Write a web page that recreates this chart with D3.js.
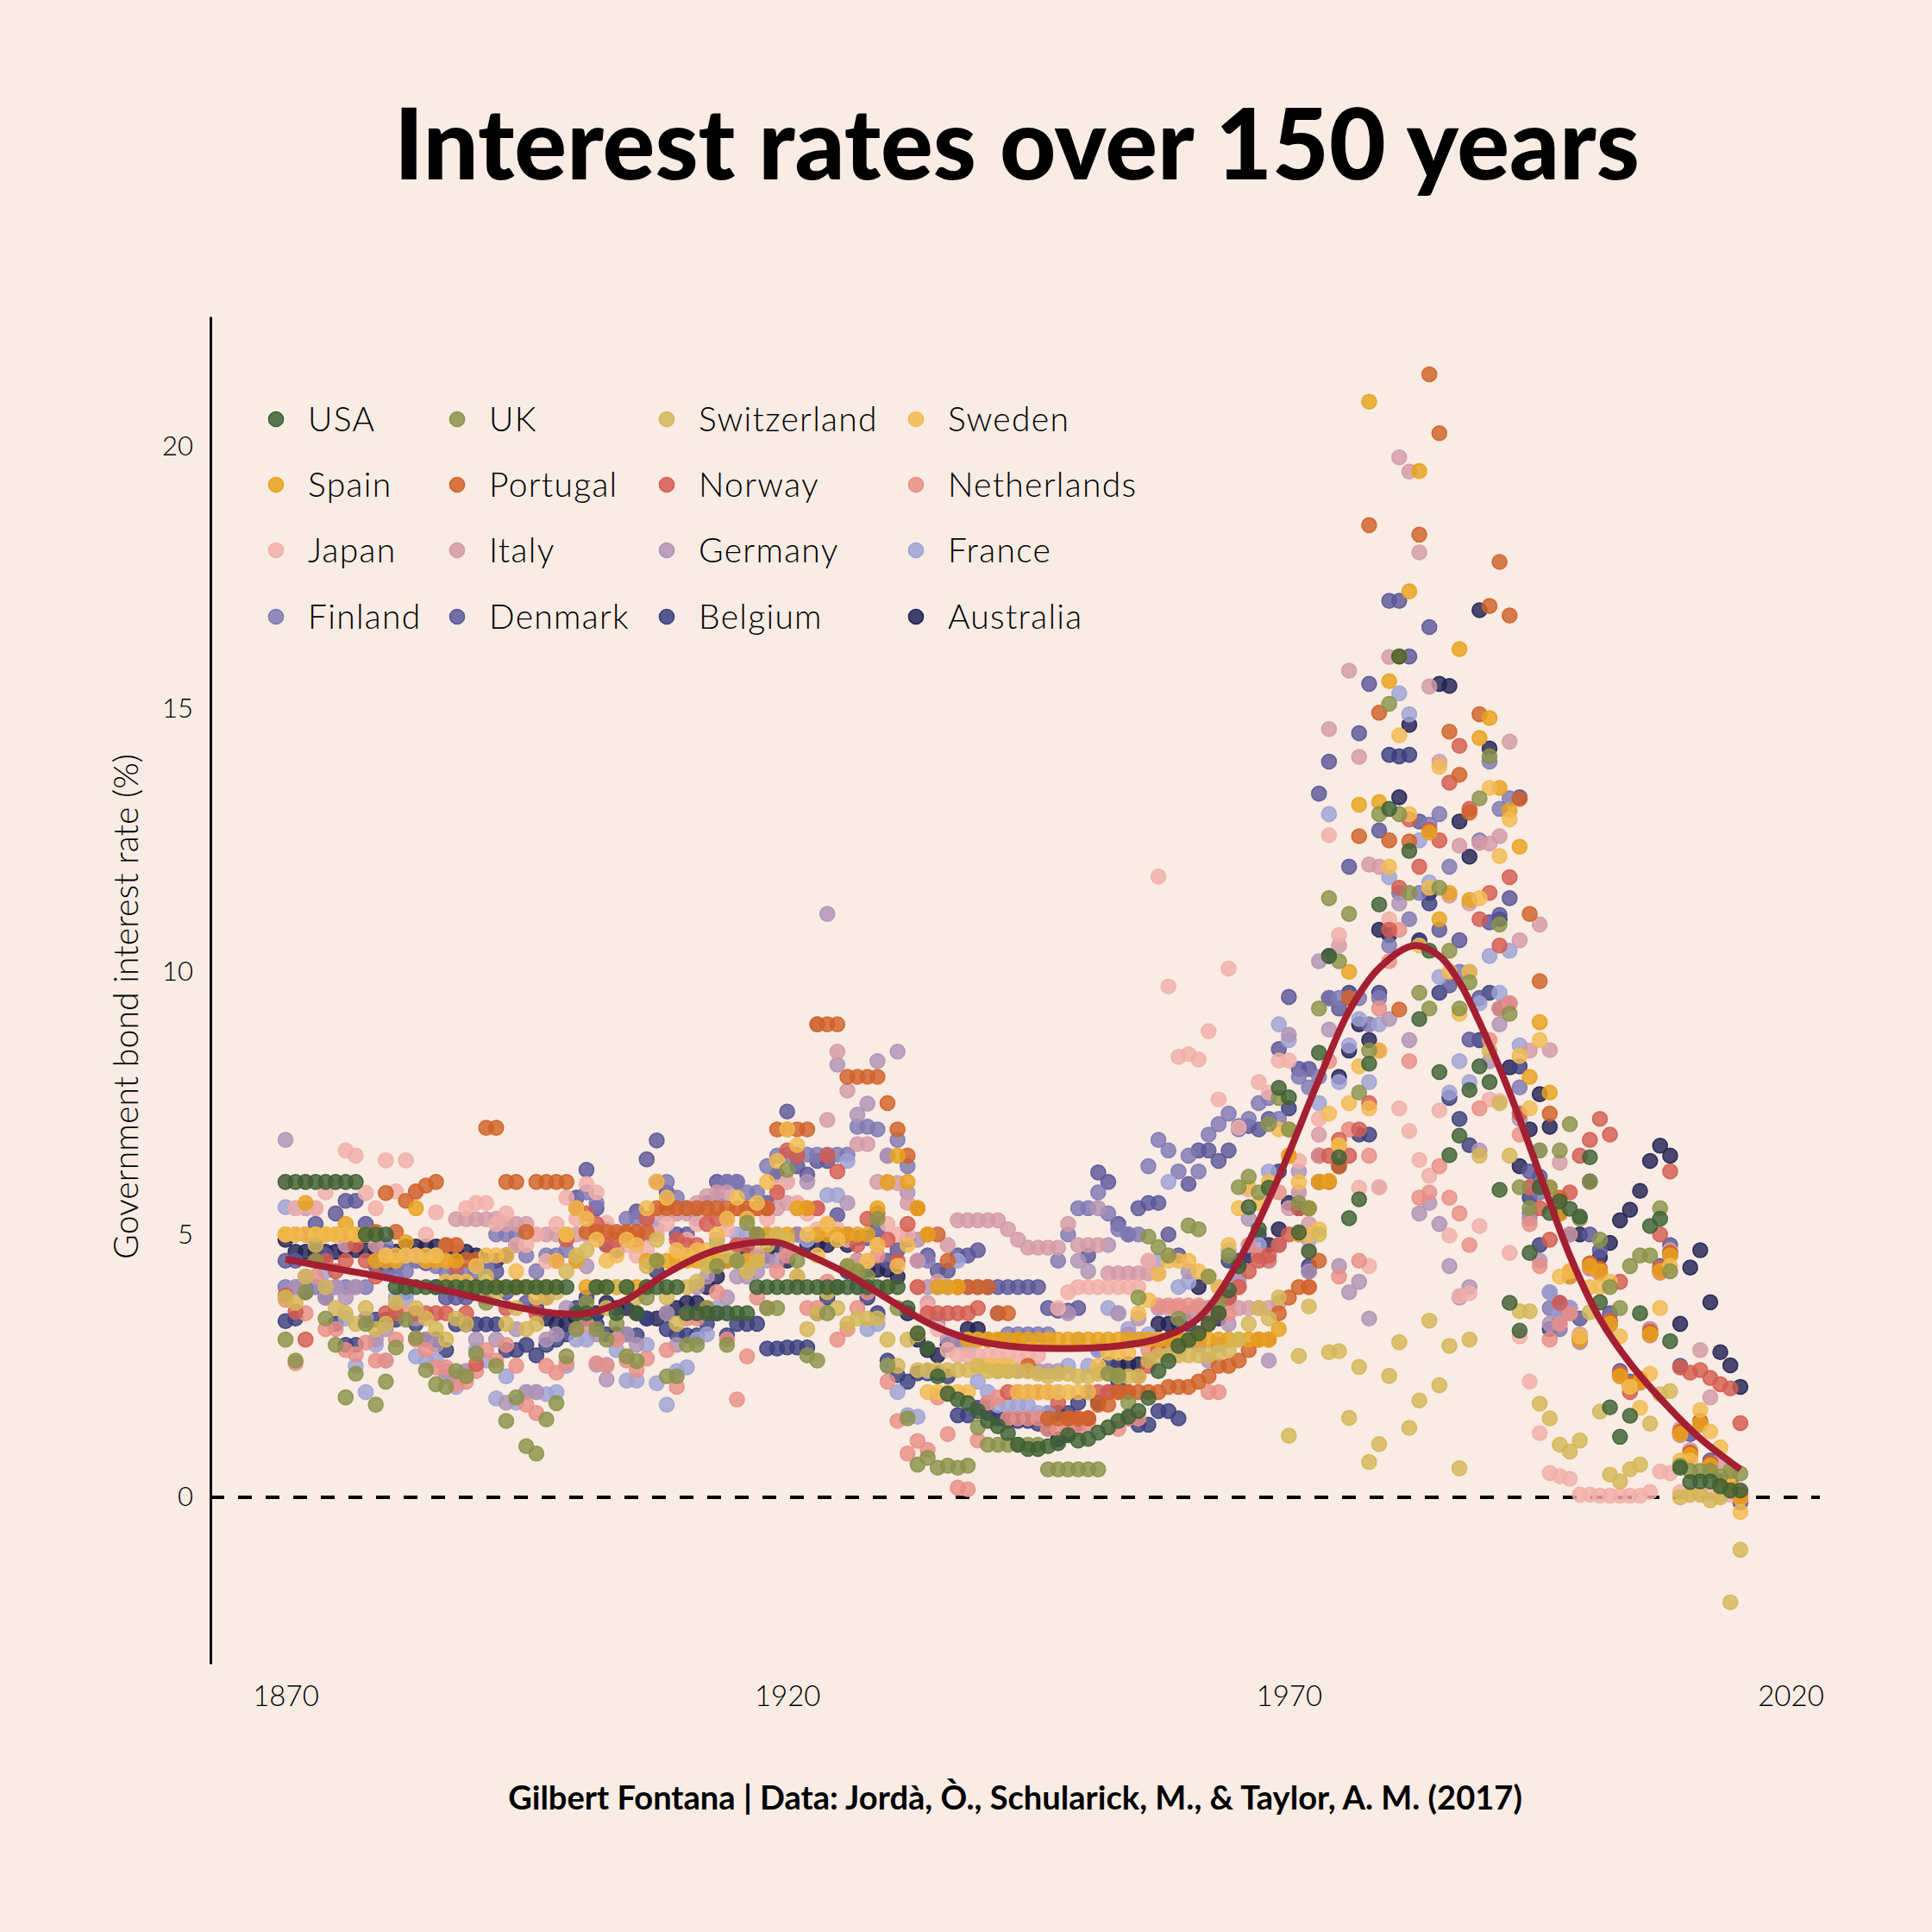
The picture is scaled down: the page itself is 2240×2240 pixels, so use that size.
<!DOCTYPE html>
<html>
<head>
<meta charset="utf-8">
<script src="https://cdn.jsdelivr.net/npm/d3@7"></script>
<style>
html, body { margin: 0; padding: 0; background: #f8ece4; }
svg { display: block; font-family: Lato, "Open Sans", sans-serif; }
</style>
</head>
<body>
<svg id="chart" width="2240" height="2240"></svg>
<script>
// short-term interest rates, one value per year from 1870 to 2015
var firstYear = 1870;

var usa = [
  6,6,6,6,6,6,6,6,5,5,
  5,4,4,4,4,4,4,4,4,4,
  4,4,4,4,4,4,4,4,4,3.5,
  3.5,4,4,3.5,4,3.5,4,4,4,4,
  3.5,3.5,3.5,3.5,3.5,3.5,3.5,4,4,4,
  4,4,4,4,4,4,4,4,4,4,
  4,4,3.6,3.12,2.83,2.3,1.97,1.86,1.79,1.64,
  1.45,1.35,1.22,1.0,0.92,0.92,0.97,1.03,1.18,1.08,
  1.11,1.23,1.33,1.45,1.53,1.64,1.89,2.4,2.59,2.88,
  2.99,3.12,3.3,3.5,3.94,4.4,5.52,5.1,5.89,7.79,
  7.61,5.04,4.68,8.46,10.3,6.47,5.31,5.67,8.25,11.28,
  13.1,16.0,12.3,9.1,10.4,8.09,6.51,6.88,7.75,8.2,
  7.9,5.85,3.7,3.17,4.65,5.9,5.41,5.63,5.49,5.34,
  6.47,3.71,1.71,1.15,1.55,3.5,5.16,5.3,2.97,0.56,
  0.29,0.3,0.3,0.21,0.13,0.13
];
var uk = [
  3.0,2.6,3.9,4.5,3.4,2.9,1.9,2.35,3.3,1.76,
  2.2,2.85,3.38,3.03,2.42,2.15,2.1,2.4,2.3,2.73,
  3.7,2.5,1.45,1.9,0.97,0.83,1.48,1.79,2.68,3.2,
  3.7,3.2,3.0,3.3,2.68,2.59,3.8,4.5,2.3,2.3,
  2.9,2.9,3.6,4.4,2.9,4.5,5.22,5.0,3.6,3.6,
  6.23,4.5,2.7,2.6,3.5,4.0,4.4,4.3,4.2,5.3,
  2.5,3.6,1.5,0.62,0.75,0.56,0.6,0.56,0.6,1.33,
  1.0,1.0,1.0,1.0,1.0,1.0,0.53,0.53,0.53,0.53,
  0.53,0.53,2.35,2.32,1.8,3.8,4.96,4.76,4.6,3.4,
  5.17,5.1,4.2,3.7,4.6,5.9,6.1,5.8,7.1,7.6,
  7.0,5.6,5.5,9.3,11.4,10.2,11.1,7.7,8.5,13.0,
  15.1,13.0,11.5,9.6,9.3,11.6,10.4,9.3,9.8,13.3,
  14.1,10.9,9.2,5.9,5.5,6.6,5.9,6.6,7.1,5.3,
  6.0,4.9,4.0,3.6,4.4,4.6,4.6,5.5,4.3,0.6,
  0.5,0.5,0.5,0.4,0.5,0.45
];
var switzerland = [
  3.8,3.7,4.2,4.8,4.0,3.6,3.5,3.3,3.6,3.2,
  3.3,3.7,4.0,3.6,3.4,3.2,3.0,3.4,3.3,3.9,
  4.2,3.9,3.3,3.6,3.2,3.3,3.8,3.9,4.3,4.6,
  4.7,4.0,3.6,4.0,4.0,3.8,4.4,4.9,3.8,3.3,
  4.0,4.1,4.4,4.8,4.6,4.5,4.3,4.5,4.8,5.0,
  4.9,4.2,3.2,3.5,3.9,3.6,3.3,3.4,3.4,3.4,
  3.0,2.5,3.0,2.42,2.42,2.42,2.42,2.42,2.42,2.5,
  2.4,2.4,2.4,2.4,2.4,2.35,2.3,2.35,2.35,2.3,
  2.3,2.35,2.35,2.3,2.3,2.3,2.6,2.7,2.7,2.7,
  2.7,2.7,2.7,2.75,2.8,3.0,3.3,3.6,3.4,3.8,
  1.17,2.69,3.63,5.0,2.76,2.78,1.51,2.48,0.67,1.01,
  2.31,2.95,1.32,1.84,3.36,2.13,2.88,0.55,3.0,6.5,
  8.5,7.5,6.5,3.54,3.54,1.78,1.5,1.0,0.87,1.08,
  3.52,1.63,0.43,0.3,0.53,0.62,1.4,1.96,2.02,0.0,
  0.05,0.05,-0.06,0.0,-2.0,-1.0
];
var sweden = [
  5,5,5,5,5,5,5,5,5,5,
  4.6,4.6,4.6,4.6,4.6,4.6,4.1,4.1,4.1,4.4,
  4.6,4.6,4.6,4.3,4.0,3.8,4.0,4.5,5.0,5.5,
  5.3,4.9,4.5,4.6,4.9,4.8,5.5,6.0,5.7,4.7,
  4.6,4.7,4.7,5.0,5.3,5.7,5.3,5.6,6.0,6.4,
  7.0,6.7,5.0,4.6,5.2,4.9,4.4,4.3,4.5,4.8,
  4.0,4.4,4.8,3.1,2.0,2.0,2.0,2.0,2.0,2.5,
  2.5,2.5,2.5,2.0,2.0,2.0,2.0,2.0,2.0,2.0,
  2.0,2.5,2.75,2.75,2.75,3.5,3.75,4.25,4.5,4.5,
  4.5,4.3,4.2,4.0,4.8,5.5,5.9,5.6,6.0,7.0,
  7.0,6.0,5.0,5.1,7.3,6.7,7.5,8.2,7.4,8.5,
  12.0,14.5,13.0,10.5,11.6,13.9,10.0,9.2,10.0,11.4,
  13.5,12.2,12.9,8.4,7.4,8.7,5.9,4.2,4.3,3.06,
  4.0,4.0,4.1,3.06,2.1,1.7,2.35,3.6,4.4,0.7,
  0.7,1.66,1.25,0.95,0.43,-0.28
];
var spain = [
  5.0,5.0,5.6,5.0,5.0,5.0,5.2,5.0,5.0,4.5,
  4.5,4.5,4.85,5.5,4.5,4.5,4.5,4.5,4.0,4.0,
  4.0,4.0,4.0,4.0,4.0,4.0,4.0,4.0,5.0,4.5,
  4.0,4.0,4.0,4.0,4.0,4.0,4.5,4.5,4.5,4.5,
  4.5,4.5,4.5,4.5,4.5,4.5,4.5,4.5,5.0,5.0,
  5.0,5.5,5.5,5.0,5.0,5.0,5.0,5.0,5.0,5.5,
  6.0,6.5,6.0,5.5,5.0,4.0,4.0,4.0,3.0,3.0,
  3,3,3,3,3,3,3,3,3,3,
  3,3,3,3,3,3,3,3,3,3,
  3,3,3,3,3,3,3,3,3,3.2,
  6.5,5.0,5.5,6.0,6.02,6.69,10.0,13.18,20.85,13.23,
  15.53,16.0,17.24,19.53,12.65,11.0,11.5,16.14,11.37,14.45,
  14.83,13.5,13.07,12.38,8.0,9.04,7.7,5.4,4.2,3.0,
  4.4,4.3,3.3,2.3,2.1,2.2,3.1,4.3,4.6,1.2,
  0.8,1.4,0.6,0.2,0.2,0.0
];
var portugal = [
  5.0,5.0,5.0,5.0,5.0,5.0,5.0,5.0,5.0,5.05,
  5.79,5.05,5.64,5.82,5.93,6.0,4.8,4.8,4.52,4.52,
  7.03,7.03,6.0,6.0,5.05,6.0,6.0,6.0,6.0,5.5,
  5.05,5.05,5.05,5.05,5.05,5.05,5.05,5.5,5.5,5.5,
  5.5,5.5,5.5,5.5,5.5,5.5,5.5,5.5,5.5,7.0,
  7.0,7.0,7.0,9.0,9.0,9.0,8.0,8.0,8.0,8.0,
  7.5,7.0,6.5,5.5,5.0,5.0,4.5,4.0,4.0,4.0,
  4.0,3.5,3.5,3.0,2.5,2.0,1.5,1.5,1.5,1.5,
  1.5,1.76,1.76,2.0,2.0,2.0,2.0,2.0,2.1,2.1,
  2.1,2.2,2.3,2.5,2.5,2.6,2.8,3.0,3.0,3.5,
  3.8,4.0,4.0,4.5,6.0,6.3,9.5,12.58,18.5,14.93,
  12.5,9.28,12.48,18.32,21.37,20.25,14.57,13.75,13.03,14.9,
  16.96,17.8,16.78,13.29,11.1,9.82,7.3,5.7,4.3,3.0,
  4.45,4.35,3.35,2.35,2.15,2.25,3.15,4.35,4.65,1.25,
  0.85,1.45,0.65,0.25,0.25,0.05
];
var norway = [
  3.84,3.53,3.0,4.5,4.5,4.3,4.5,4.8,4.5,4.2,
  3.5,3.5,4.0,3.5,3.5,3.5,3.5,4.4,3.5,2.53,
  4.0,4.0,3.6,4.0,4.0,3.5,3.8,4.5,4.9,5.5,
  5.4,5.2,4.8,4.9,5.0,4.9,5.3,6.0,5.6,4.9,
  4.8,4.8,5.2,5.3,5.3,4.8,4.8,5.0,5.5,5.8,
  6.6,6.5,5.5,5.5,6.5,6.2,5.0,4.8,5.3,5.4,
  4.9,4.5,5.2,4.0,3.5,3.5,3.5,3.5,3.5,3.6,
  3.0,3.0,2.0,2.0,2.0,2.0,2.0,1.8,1.5,1.5,
  1.5,2.0,2.0,2.0,2.0,2.3,2.5,2.8,3.0,3.0,
  3.0,3.1,3.3,3.5,3.8,4.0,4.3,4.5,4.6,4.8,
  5.0,5.5,5.5,6.0,6.5,6.8,6.5,7.0,7.5,8.5,
  10.8,11.6,12.9,12.0,12.7,12.5,13.6,14.3,13.1,11.0,
  11.5,10.5,11.8,7.3,5.9,5.5,4.9,3.7,5.8,6.5,
  6.8,7.2,6.9,4.1,2.0,2.2,3.1,5.0,6.2,2.47,
  2.37,2.42,2.27,2.15,2.07,1.41
];
var netherlands = [
  3.76,2.55,3.5,4.2,3.2,3.2,2.8,2.72,2.94,2.6,
  2.6,3.0,3.5,3.0,2.8,2.47,2.47,2.15,2.2,2.4,
  2.8,2.6,2.9,2.5,1.76,1.6,2.5,2.37,2.55,3.2,
  3.3,2.55,2.5,3.0,2.6,2.42,2.64,4.5,2.8,2.1,
  3.4,3.4,3.6,3.9,3.0,1.86,2.68,3.8,3.6,4.3,
  4.6,4.2,3.6,3.6,4.1,3.0,3.2,3.6,3.9,4.6,
  2.2,1.45,0.83,1.07,0.9,1.9,1.2,0.18,0.15,1.08,
  1.8,1.9,1.5,1.5,1.5,1.5,1.3,1.3,1.3,1.3,
  1.4,2.4,2.0,1.3,1.5,1.5,2.8,3.65,3.65,3.65,
  3.65,3.65,2.0,2.0,3.5,4.0,4.8,4.6,4.5,5.8,
  6.5,5.0,4.0,6.5,8.3,4.2,7.0,4.5,6.5,9.3,
  10.2,10.8,8.3,5.7,5.8,6.3,5.7,5.4,4.8,7.4,
  8.7,9.3,9.4,6.9,5.2,4.4,3.0,3.3,3.5,3.05,
  4.38,4.26,3.32,2.33,2.11,2.19,3.08,4.28,4.63,1.23,
  0.78,1.39,0.57,0.22,0.21,-0.02
];
var japan = [
  6.0,5.5,6.0,5.5,5.8,6.0,6.6,6.5,5.79,5.5,
  6.41,5.82,6.41,5.8,5.0,5.42,4.5,4.8,5.5,5.6,
  5.6,5.2,5.4,4.8,4.8,5.0,4.49,5.2,5.7,5.3,
  5.96,5.8,5.22,4.9,4.8,4.6,4.7,5.0,5.2,4.6,
  4.9,5.2,5.4,5.5,5.1,4.8,4.5,4.6,5.3,5.9,
  6.0,5.6,5.4,5.1,5.2,5.1,4.9,4.49,4.49,4.8,
  5.2,5.0,5.0,4.0,3.6,3.2,2.8,2.7,2.7,2.7,
  2.7,2.7,2.7,2.7,2.7,2.7,3.0,3.6,3.9,4.0,
  4.0,4.0,4.0,4.0,4.0,4.0,4.5,11.81,9.72,8.38,
  8.43,8.33,8.87,7.57,10.06,7.04,5.85,7.9,7.7,8.31,
  8.31,6.4,4.7,7.2,12.6,10.7,7.0,5.89,4.4,5.9,
  11.0,7.4,6.97,6.42,6.12,7.36,4.98,3.83,3.88,5.16,
  7.57,7.54,4.65,3.06,2.2,1.22,0.46,0.4,0.35,0.05,
  0.05,0.03,0.03,0.03,0.03,0.03,0.1,0.49,0.46,0.1,
  0.05,0.05,0.05,0.05,0.05,0.05
];
var italy = [
  5.0,5.0,5.5,5.5,5.0,5.0,4.8,5.0,5.0,4.8,
  4.6,4.5,4.6,4.6,4.5,4.6,4.8,5.29,5.29,5.29,
  5.29,5.3,5.2,5.2,5.2,5.0,5.0,5.0,5.0,5.0,
  5.0,5.0,5.0,5.0,5.0,5.0,5.0,5.4,5.4,5.4,
  5.4,5.6,5.73,5.8,5.8,5.5,5.5,5.5,5.5,5.5,
  5.6,5.6,5.5,5.5,7.18,8.48,7.74,6.72,6.72,6.0,
  5.98,5.98,5.6,4.5,3.7,4.1,4.8,5.27,5.27,5.27,
  5.27,5.27,5.1,4.9,4.75,4.75,4.75,4.75,5.2,4.8,
  4.8,4.8,4.26,4.26,4.26,4.26,4.26,4.26,3.6,3.6,
  3.5,3.5,3.6,3.7,3.7,3.6,3.6,3.6,3.6,3.7,
  5.5,5.8,5.2,6.9,14.62,10.5,15.73,14.09,12.04,12.0,
  15.99,19.79,19.52,17.98,15.43,14.0,11.45,12.4,11.3,12.45,
  12.44,12.58,14.38,10.6,8.5,10.9,8.51,6.37,5.0,3.1,
  4.45,4.3,3.35,2.35,2.15,2.25,3.2,4.35,4.7,1.3,
  0.9,2.8,1.9,0.7,0.4,0.1
];
var germany = [
  6.8,4.0,4.2,5.0,3.8,4.0,3.8,4.0,3.4,3.0,
  3.2,3.6,4.0,3.4,3.0,2.9,2.3,2.3,2.4,3.0,
  3.8,3.0,1.8,3.2,2.0,2.0,3.0,3.1,3.6,4.5,
  4.4,3.1,2.24,3.0,3.1,2.9,4.0,5.1,3.5,2.9,
  3.5,4.0,4.2,4.9,3.8,4.2,4.2,4.3,4.5,4.5,
  4.7,5.0,6.0,9.0,11.1,8.23,5.6,7.28,7.49,8.3,
  6.5,8.48,5.8,4.9,4.0,3.3,3.0,3.0,3.0,3.0,
  2.5,2.4,2.4,2.4,2.4,2.4,2.4,2.4,3.5,4.5,
  4.3,5.5,4.8,3.5,3.1,3.4,4.5,3.6,2.9,2.8,
  4.3,2.9,2.6,2.9,3.3,4.1,5.3,3.0,2.6,4.8,
  8.8,6.2,4.3,10.2,8.9,4.4,3.9,4.1,3.4,5.9,
  9.1,11.3,8.7,5.4,5.6,5.2,4.4,3.8,4.0,6.6,
  8.3,9.0,9.4,7.2,5.3,4.5,3.3,3.3,3.5,2.95,
  4.35,4.25,3.28,2.3,2.08,2.18,3.08,4.27,4.6,1.18,
  0.78,1.38,0.58,0.19,0.19,-0.03
];
var france = [
  5.52,5.5,5.0,5.0,4.3,4.0,3.4,2.5,2.0,2.9,
  2.6,3.8,3.8,2.68,2.6,2.6,2.4,2.1,2.4,2.8,
  2.6,1.88,2.3,1.8,2.0,2.0,1.96,2.0,2.5,3.0,
  3.0,2.52,2.52,2.8,2.22,2.22,2.9,2.17,1.76,2.4,
  2.47,3.0,3.1,3.6,3.5,5.0,5.0,5.0,5.0,5.0,
  6.0,5.5,4.9,5.0,5.75,5.75,6.4,4.0,3.2,3.3,
  2.5,2.0,1.56,1.53,2.4,3.4,4.0,4.5,2.8,2.2,
  2.0,1.75,1.75,1.75,1.75,1.6,1.6,2.0,2.5,3.0,
  2.5,2.8,3.6,3.5,3.2,3.0,3.1,4.5,6.0,4.0,
  4.1,3.6,3.6,4.0,4.7,4.2,4.8,4.8,6.2,9.0,
  8.7,5.8,4.9,7.5,13.0,7.9,8.6,9.1,7.9,9.0,
  11.8,15.3,14.9,12.5,11.7,9.9,7.7,8.3,7.9,9.4,
  10.3,9.6,10.4,8.6,5.9,6.6,3.9,3.5,3.6,2.98,
  4.42,4.28,3.31,2.32,2.12,2.21,3.12,4.31,4.62,1.22,
  0.82,1.42,0.62,0.21,0.22,0.01
];
var finland = [
  4,4,4,4,4,4,4,4,4,4.5,
  4.8,4.2,4.3,4.5,4.5,4.4,4.3,4.3,4.3,4.3,
  4.4,5.0,5.0,5.0,4.6,4.3,4.6,4.6,4.7,5.5,
  5.8,5.6,5.1,4.9,5.3,5.3,5.3,6.0,6.0,5.7,
  5.5,5.3,5.5,5.7,6.0,6.0,5.8,5.8,6.3,6.5,
  6.52,6.52,6.52,6.52,6.52,6.52,6.52,7.05,7.05,7.0,
  6.5,6.8,6.3,5.5,4.5,4.0,4.0,4.0,4.0,4.0,
  4.0,3.5,3.1,3.1,3.1,3.1,3.1,4.5,5.0,5.5,
  5.5,5.8,5.4,5.1,5.0,5.0,6.3,6.8,6.6,6.2,
  6.5,6.2,6.9,7.1,7.3,7.0,7.2,7.5,7.6,7.2,
  7.0,8.0,7.8,8.0,9.5,9.5,9.5,9.5,9.0,9.5,
  10.5,11.5,11.0,11.5,12.8,13.0,12.0,10.0,10.0,12.5,
  14.0,13.1,13.3,7.8,5.4,5.8,3.6,3.2,3.6,3.02,
  4.39,4.27,3.3,2.31,2.1,2.2,3.11,4.3,4.64,1.21,
  0.81,1.41,0.59,0.2,0.2,-0.01
];
var denmark = [
  4.5,4.5,5.0,5.2,4.6,5.4,5.64,5.64,5.2,4.4,
  4.3,4.4,4.6,4.5,4.45,4.0,3.8,3.8,3.8,4.0,
  4.4,4.3,3.9,4.0,3.7,3.6,4.0,4.5,5.0,5.7,
  6.23,5.5,4.8,4.7,4.9,5.44,6.43,6.79,5.8,5.0,
  5.0,5.4,5.6,6.0,6.0,6.0,5.4,5.0,5.6,6.13,
  7.34,6.3,6.14,6.4,6.4,5.37,5.0,4.93,4.93,5.1,
  4.5,4.7,4.9,4.5,4.6,4.31,4.31,4.6,4.6,4.7,
  4.0,4.0,4.0,4.0,4.0,4.0,3.6,3.55,3.55,3.6,
  4.6,6.18,6.0,5.2,5.0,5.5,5.6,5.6,5.0,4.6,
  5.96,6.6,6.6,6.4,6.6,7.06,7.06,7.0,7.2,8.53,
  9.52,8.15,8.15,13.39,14.0,9.3,12.0,14.54,15.48,12.69,
  17.06,17.06,16.0,12.86,16.56,10.8,9.74,10.6,8.71,9.5,
  10.94,11.08,11.4,13.32,6.2,6.1,3.9,3.7,4.2,3.4,
  5.0,4.7,3.5,2.4,2.2,2.2,3.2,4.4,4.8,2.5,
  1.2,1.4,0.7,0.3,0.3,-0.1
];
var belgium = [
  3.35,3.4,3.9,4.8,3.8,3.3,2.9,2.9,3.38,3.38,
  3.38,3.38,3.9,3.3,3.0,3.0,2.8,3.29,3.29,3.29,
  3.29,3.29,2.8,2.8,2.9,2.7,2.9,3.0,3.1,3.6,
  3.8,3.29,3.1,3.1,3.1,3.08,3.4,4.3,3.2,3.1,
  3.08,3.08,3.3,3.5,3.08,3.3,3.3,3.3,2.83,2.83,
  2.85,2.85,2.85,3.5,3.8,4.0,4.3,4.2,3.8,3.5,
  2.6,2.32,2.2,2.36,2.36,2.36,2.3,1.56,1.56,1.7,
  1.8,1.5,1.45,1.45,1.45,1.4,1.6,1.6,1.6,1.8,
  2.0,2.8,2.53,2.2,1.5,1.38,1.38,1.64,1.64,1.5,
  3.3,3.5,3.6,3.5,4.5,4.5,4.7,5.0,4.5,6.2,
  7.4,5.5,4.4,6.5,10.3,6.3,9.6,6.9,6.9,9.6,
  14.13,14.1,14.13,10.6,11.3,9.6,7.6,7.2,6.7,8.7,
  9.6,9.3,9.4,8.2,5.7,4.8,3.2,3.4,3.6,3.03,
  4.41,4.29,3.31,2.32,2.1,2.21,3.1,4.3,4.63,1.22,
  0.81,1.41,0.6,0.21,0.2,0.0
];
var australia = [
  4.9,4.67,4.67,4.67,4.67,4.67,4.7,4.7,4.7,4.7,
  4.67,4.67,4.77,4.77,4.77,4.77,4.77,4.67,4.67,4.6,
  4.5,4.5,4.6,4.8,4.0,3.6,3.4,3.3,3.3,3.4,
  3.4,3.5,3.7,3.6,3.6,3.5,3.4,3.4,3.5,3.6,
  3.7,3.7,4.0,4.2,4.5,4.5,4.6,4.6,4.6,4.8,
  4.5,5.0,4.8,4.8,4.8,4.9,4.8,4.5,4.33,4.33,
  4.33,4.2,3.5,3.0,2.8,2.7,2.9,3.0,3.2,3.2,
  1.6,1.5,1.5,1.5,1.5,1.5,1.3,1.1,1.2,1.4,
  1.5,1.8,2.0,2.5,2.53,2.53,2.6,3.3,3.3,3.3,
  3.5,4.0,3.5,3.4,3.8,4.4,4.6,4.6,4.8,5.1,
  5.6,5.5,4.3,6.0,9.5,8.0,8.5,9.0,8.7,10.8,
  10.7,13.32,14.7,10.58,11.5,15.48,15.44,12.86,12.19,16.88,
  14.25,11.0,8.18,6.3,7.0,7.67,7.05,5.4,5.0,5.0,
  6.01,4.57,4.84,5.27,5.47,5.83,6.4,6.69,6.5,3.3,
  4.37,4.7,3.71,2.76,2.51,2.1
];

// legend order (row by row) and colours
var countries = ["USA","UK","Switzerland","Sweden","Spain","Portugal","Norway","Netherlands",
                 "Japan","Italy","Germany","France","Finland","Denmark","Belgium","Australia"];
var seriesValues = [usa,uk,switzerland,sweden,spain,portugal,norway,netherlands,
                    japan,italy,germany,france,finland,denmark,belgium,australia];
var colors = ["#3e6134","#8b934a","#d4b757","#f2bb50","#e8a21c","#d16228","#d45c51","#e98f86",
              "#f2afa9","#d49aa7","#b092b6","#9fa2d6","#7f79b4","#5b579a","#3b3f80","#222255"];

// smoothed trend
var smoothYears = [1870,1875,1880,1885,1889,1893,1897,1900,1904,1908,1912,1916,1919,1922,1926,1930,
                   1934,1938,1942,1947,1953,1957,1961,1965,1969,1973,1976,1979,1982.5,1985,1987,1989,
                   1992,1995,1998,2001,2004,2008,2011,2015];
var smoothVals = [4.53,4.35,4.18,3.98,3.8,3.62,3.5,3.5,3.76,4.26,4.64,4.83,4.85,4.62,4.25,3.78,
                  3.32,3.02,2.88,2.83,2.88,3.02,3.41,4.5,6.1,7.95,9.25,10.07,10.5,10.3,9.8,9.04,
                  7.7,6.15,4.6,3.39,2.55,1.68,1.12,0.53];

var xTicks = [1870,1920,1970,2020];
var yTicks = [0,5,10,15,20];

var svg = d3.select("#chart");
svg.append("rect").attr("width",2240).attr("height",2240).attr("fill","#f8ece4");

var x = d3.scaleLinear().domain([1870,2020]).range([331,2076]);
var y = d3.scaleLinear().domain([-3.17,22.47]).range([1929,367]);
var color = d3.scaleOrdinal().domain(countries).range(colors);

function fitWidth(sel, w) {
  var len = sel.node().getComputedTextLength();
  var fs = parseFloat(sel.attr("font-size"));
  sel.attr("font-size", fs * w / len);
}

// title
var title = svg.append("text")
  .attr("x",1179).attr("y",208)
  .attr("text-anchor","middle")
  .attr("font-size",100).attr("font-weight",900)
  .attr("fill","#000")
  .text("Interest rates over 150 years");
fitWidth(title, 1444);

// zero line
svg.append("line")
  .attr("x1",244).attr("x2",2110)
  .attr("y1",y(0)).attr("y2",y(0))
  .attr("stroke","#000").attr("stroke-width",4)
  .attr("stroke-dasharray","16,16");

// points: drawn alphabetically, so USA ends on top
var pts = [];
for (var c = countries.length - 1; c >= 0; c--) {
  seriesValues[c].forEach(function(v, i) {
    pts.push({country: countries[c], year: firstYear + i, value: v});
  });
}
svg.append("g").selectAll("circle")
  .data(pts)
  .enter()
  .append("circle")
  .attr("cx", function(d) { return x(d.year); })
  .attr("cy", function(d) { return y(d.value); })
  .attr("r", 8.5)
  .attr("fill", function(d) { return color(d.country); })
  .attr("fill-opacity", 0.82)
  .attr("stroke", function(d) { return color(d.country); })
  .attr("stroke-opacity", 0.9)
  .attr("stroke-width", 1.6);

// smooth trend
var line = d3.line()
  .x(function(d, i) { return x(smoothYears[i]); })
  .y(function(d) { return y(d); })
  .curve(d3.curveCatmullRom.alpha(0.5));
svg.append("path")
  .attr("d", line(smoothVals))
  .attr("fill","none")
  .attr("stroke","#a31f31")
  .attr("stroke-width",8)
  .attr("stroke-linecap","butt");

// y axis
var yAxis = svg.append("g")
  .attr("transform","translate(244,0)")
  .call(d3.axisLeft(y).tickValues(yTicks).tickSize(0).tickSizeOuter(0).tickPadding(20));
yAxis.select(".domain").attr("stroke","#000").attr("stroke-width",3);
yAxis.selectAll("text")
  .attr("font-family","Lato, sans-serif")
  .attr("font-size",31).attr("font-weight",300).attr("fill","#000");

// x axis (labels only)
var xAxis = svg.append("g")
  .attr("transform","translate(0,1929)")
  .call(d3.axisBottom(x).tickValues(xTicks).tickFormat(d3.format("d")).tickSize(0).tickPadding(26));
xAxis.select(".domain").remove();
xAxis.selectAll("text")
  .attr("font-family","Lato, sans-serif")
  .attr("font-size",33).attr("font-weight",300).attr("fill","#000");

// y axis title
var yTitle = svg.append("text")
  .attr("transform","translate(160,1167) rotate(-90)")
  .attr("text-anchor","middle")
  .attr("font-size",36).attr("font-weight",300)
  .attr("fill","#000")
  .text("Government bond interest rate (%)");
fitWidth(yTitle, 586);

// legend, 4 per row
var legX = [320,530,773,1062];
var legY = [486,562,638,715];
var leg = svg.append("g").selectAll("g")
  .data(countries)
  .enter()
  .append("g")
  .attr("transform", function(d, i) { return "translate(" + legX[i % 4] + "," + legY[Math.floor(i / 4)] + ")"; });
leg.append("circle")
  .attr("r", 8.5)
  .attr("fill", function(d) { return color(d); })
  .attr("fill-opacity", 0.85)
  .attr("stroke", function(d) { return color(d); })
  .attr("stroke-width", 1.6);
leg.append("text")
  .attr("x", 37)
  .attr("dy", "0.36em")
  .attr("font-size", 39).attr("font-weight", 300)
  .attr("letter-spacing", 1.3)
  .attr("fill", "#000")
  .text(function(d) { return d; });

// caption
var cap = svg.append("text")
  .attr("x",1177).attr("y",2098)
  .attr("text-anchor","middle")
  .attr("font-size",30).attr("font-weight",700)
  .attr("fill","#000")
  .text("Gilbert Fontana | Data: Jordà, Ò., Schularick, M., & Taylor, A. M. (2017)");
fitWidth(cap, 1176);
</script>
</body>
</html>
